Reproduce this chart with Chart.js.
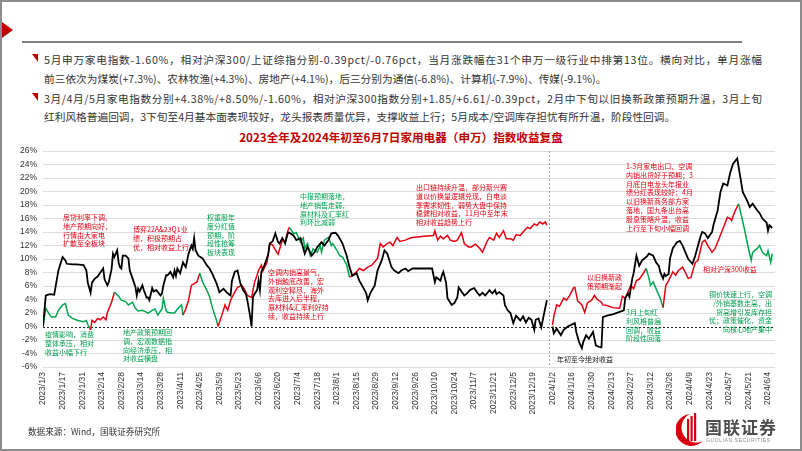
<!DOCTYPE html>
<html>
<head>
<meta charset="utf-8">
<script src="https://cdn.jsdelivr.net/npm/chart.js@4.4.1/dist/chart.umd.min.js"></script>
<style>
  html, body { margin: 0; padding: 0; background: #fff; }
  #page {
    position: relative; width: 802px; height: 451px; overflow: hidden; background: #fff;
    font-family: "Noto Sans CJK SC", "Liberation Sans", sans-serif; color: #262626;
  }
  #frame { position: absolute; left: 0; top: 0; right: 0; bottom: 0; border: 2px solid #8c8c8c; pointer-events: none; }
  .flag { position: absolute; left: 2px; top: 22px; width: 0; height: 0;
    border-top: 8px solid transparent; border-bottom: 8px solid transparent; border-left: 11px solid #c00000; }
  .rule { position: absolute; left: 22px; top: 41px; width: 720px; height: 0; border-top: 2px solid #808080; }
  .bullet { position: absolute; width: 0; height: 0; border-top: 8px solid #c00000; border-left: 6px solid transparent; }
  .line { position: absolute; left: 44px; font-size: 10.7px; line-height: 14px; white-space: nowrap; color: #333; }
  .title { position: absolute; left: 0; width: 802px; top: 129px; text-align: center;
    font-size: 11.6px; font-weight: 700; color: #c00000; font-family: "Noto Sans CJK SC", serif; }
  #chartBox { position: absolute; left: 0; top: 140px; width: 790px; height: 285px; }
  .note { position: absolute; font-size: 7px; line-height: 8.8px; white-space: nowrap; }
  .red { color: #e60012; }
  .green { color: #00a050; }
  .black { color: #111; }
  .source { position: absolute; left: 28px; top: 425px; font-size: 8.6px; color: #333; }
  .logo { position: absolute; left: 676px; top: 411px; }
  .brand { position: absolute; left: 705px; top: 414px; font-size: 17px; font-weight: 700; color: #4d4d4d; letter-spacing: 1px; }
  .brand-en { position: absolute; left: 706px; top: 437px; font-size: 5px; color: #8a8a8a; letter-spacing: 0.6px; font-family: "Liberation Sans", sans-serif; }
</style>
</head>
<body>
<div id="page">
  <div class="flag"></div>
  <div class="rule"></div>

  <div class="bullet" style="left:32px; top:54px;"></div>
  <div class="line fit" data-width="718" style="top:53px;">5月申万家电指数-1.60%，相对沪深300/上证综指分别-0.39pct/-0.76pct，当月涨跌幅在31个申万一级行业中排第13位。横向对比，单月涨幅</div>
  <div class="line" style="top:72px;">前三依次为煤炭(+7.3%)、农林牧渔(+4.3%)、房地产(+4.1%)，后三分别为通信(-6.8%)、计算机(-7.9%)、传媒(-9.1%)。</div>
  <div class="bullet" style="left:32px; top:93px;"></div>
  <div class="line fit" data-width="718" style="top:92px;">3月/4月/5月家电指数分别+4.38%/+8.50%/-1.60%，相对沪深300指数分别+1.85/+6.61/-0.39pct，2月中下旬以旧换新政策预期升温，3月上旬</div>
  <div class="line" style="top:110px;">红利风格普遍回调，3下旬至4月基本面表现较好，龙头报表质量优异，支撑收益上行；5月成本/空调库存担忧有所升温，阶段性回调。</div>

  <div class="title">2023全年及2024年初至6月7日家用电器（申万）指数收益复盘</div>

  <div id="chartBox"><canvas id="chart" width="790" height="285"></canvas></div>

  <!-- ---------- Annotations ---------- -->
  <div class="note red" style="left:63px; top:213px;">房贷利率下调、<br>地产预期向好，<br>行情由大家电<br>扩散至全板块</div>
  <div class="note red" style="left:133px; top:225px;">博弈22A&amp;23Q1业<br>绩，积极预期占<br>优，相对收益上行</div>
  <div class="note green" style="left:207px; top:213px;">权重股年<br>度分红值<br>预期，阶<br>段性抢筹<br>板块表现</div>
  <div class="note green" style="left:300px; top:192px;">中报预期落地，<br>地产销售走弱，<br>原材料及汇率红<br>利环比减弱</div>
  <div class="note red" style="left:268px; top:268px;">空调内销高景气，<br>外销触底改善，宏<br>观利空释尽，海外<br>去库进入后半程，<br>原材料&amp;汇率利好持<br>续，收益持续上行</div>
  <div class="note red" style="left:416px; top:183px;">出口链持续升温，部分新兴赛<br>道以价换量逻辑兑现，白电淡<br>季需求韧性，弱势大盘中保持<br>稳健相对收益，11月中至年末<br>相对收益趋势上行</div>
  <div class="note green" style="left:45px; top:330px;">疫情影响，消费<br>整体承压，相对<br>收益小幅下行</div>
  <div class="note green" style="left:123px; top:328px;">地产政策预期回<br>调，宏观数据指<br>向经济承压，相<br>对收益横盘</div>
  <div class="note red" style="left:587px; top:273px;">以旧换新政<br>策预期渐起</div>
  <div class="note black" style="left:557px; top:355px;">年初至今绝对收益</div>
  <div class="note green" style="left:626px; top:308px;">3月上旬红<br>利风格普遍<br>回调，收益<br>阶段性回落</div>
  <div class="note red" style="left:626px; top:162px;">1-3月家电出口、空调<br>内销出货好于预期；3<br>月底白电龙头年报业<br>绩分红表现较好；4月<br>以旧换新商务部方案<br>落地，国九条出台高<br>股息策略升温，收益<br>上行至下旬小幅回调</div>
  <div class="note red" style="left:703px; top:265px;">相对沪深300收益</div>
  <div class="note green" style="left:700px; top:290px; width:72px; text-align:right;">铜价快速上行，空调<br>/外销基数走高，出<br>货高增引发库存担<br>忧；政策催化，资金<br>向核心地产集中</div>

  <div class="source">数据来源：Wind，国联证券研究所</div>

  <svg class="logo" width="28" height="38" viewBox="0 0 28 38">
    <path d="M14 3 A16 16 0 1 0 27 30 A12 12 0 0 1 14 3 Z" fill="#d7000f"/>
    <rect x="11" y="8" width="2.2" height="22" fill="#d7000f"/>
    <rect x="14.5" y="5" width="2.2" height="25" fill="#d7000f"/>
    <rect x="18" y="2" width="2.2" height="28" fill="#d7000f"/>
  </svg>
  <div class="brand">国联证券</div>
  <div class="brand-en">GUOLIAN SECURITIES</div>

  <div id="frame"></div>
</div>

<script>
// ---------- Stretch full header lines to the text column width ----------
document.querySelectorAll('.fit').forEach(function(el) {
    var target = parseFloat(el.dataset.width);
    var natural = el.getBoundingClientRect().width;
    var n = el.textContent.length;
    el.style.letterSpacing = ((target - natural) / (n - 1)) + 'px';
});

// ---------- Data ----------
// x values are calendar days counted from 2023/1/3 (the first trading day)
var tickLabels = ['2023/1/3', '2023/1/17', '2023/1/31', '2023/2/14', '2023/2/28', '2023/3/14', '2023/3/28',
    '2023/4/11', '2023/4/25', '2023/5/9', '2023/5/23', '2023/6/6', '2023/6/20', '2023/7/4', '2023/7/18',
    '2023/8/1', '2023/8/15', '2023/8/29', '2023/9/12', '2023/9/26', '2023/10/10', '2023/10/24', '2023/11/7',
    '2023/11/21', '2023/12/5', '2023/12/19', '2024/1/2', '2024/1/16', '2024/1/30', '2024/2/13', '2024/2/27',
    '2024/3/12', '2024/3/26', '2024/4/9', '2024/4/23', '2024/5/7', '2024/5/21', '2024/6/4'];
var tickStep = 14;
var lastDay = 523;
var yearBreak = 361.5;

// Absolute return since start of year (black)
var absDays23 = [0, 2, 5, 8, 11, 14, 16, 17, 21, 24, 29, 31, 32, 34, 35, 37, 39, 42, 43, 44, 46, 47, 49, 50, 51, 53,
    54, 55, 56, 57, 59, 61, 62, 64, 66, 67, 68, 69, 71, 72, 74, 75, 76, 78, 79, 81, 84, 85, 86, 88, 89, 91, 93, 94,
    95, 96, 98, 100, 102, 104, 106, 107, 108, 109, 111, 114, 117, 119, 121, 124, 126, 129, 131, 134, 135, 137, 139,
    141, 143, 145, 146, 148, 149, 150, 151, 153, 154, 155, 156, 158, 160, 161, 162, 164, 166, 168, 169, 171, 173,
    175, 176, 179, 181, 184, 185, 187, 189, 192, 194, 196, 199, 201, 204, 206, 209, 211, 214, 217, 219, 221, 224,
    226, 229, 231, 232, 234, 237, 239, 242, 244, 246, 249, 251, 254, 256, 259, 261, 264, 266, 269, 273, 278, 280,
    281, 284, 285, 286, 288, 289, 292, 294, 296, 297, 299, 301, 303, 305, 308, 310, 312, 314, 316, 319, 321, 323,
    324, 326, 329, 330, 332, 334, 336, 338, 341, 343, 345, 347, 349, 351, 352, 354, 356, 357, 360];
var absVals23 = [0, 4.6, 4.8, 4.7, 8.3, 10.3, 9.8, 9.3, 9.2, 9.2, 9.1, 8.3, 6.5, 5.0, 6.5, 7.1, 7.4, 8.3, 8.6, 7.0,
    6.1, 6.6, 8.5, 10.8, 10.3, 11.3, 9.5, 8.8, 8.6, 10.5, 10.5, 10.1, 8.3, 7.1, 5.9, 4.6, 5.6, 5.2, 6.1, 5.4, 4.3,
    4.3, 3.9, 5.7, 5.2, 5.4, 4.6, 4.9, 6.1, 7.6, 7.6, 8.1, 7.3, 8.3, 7.5, 8.6, 7.9, 9.5, 8.8, 10.8, 12.0, 11.5, 13.1,
    11.3, 10.5, 10.1, 9.1, 8.6, 7.8, 6.4, 5.1, 5.6, 5.1, 4.6, 6.8, 8.1, 8.3, 6.4, 5.4, 4.8, 3.9, 1.5, 0, 4.3, 4.8,
    5.4, 6.8, 5.4, 8.1, 9.0, 10.1, 10.8, 12.3, 12.6, 13.8, 12.5, 12.3, 13.1, 12.3, 13.9, 13.9, 13.5, 12.8, 13.1,
    12.3, 10.8, 11.8, 10.5, 11.0, 11.8, 12.5, 12.0, 12.8, 13.8, 13.9, 13.4, 12.3, 10.5, 8.8, 7.5, 7.9, 6.8, 5.7,
    4.9, 3.9, 5.0, 6.1, 8.3, 9.8, 11.3, 10.8, 8.8, 8.3, 7.9, 8.3, 8.6, 8.2, 8.6, 8.6, 8.6, 8.6, 8.6, 6.6, 7.3, 6.8,
    7.6, 8.1, 6.5, 4.2, 3.2, 3.5, 4.3, 5.8, 5.2, 4.6, 4.9, 5.4, 5.7, 5.1, 4.6, 5.0, 4.6, 5.4, 4.9, 5.4, 4.8, 5.1,
    4.6, 3.2, 2.4, 2.0, 0.5, 1.6, 0.9, 1.5, 0.6, 1.3, 1.0, -0.5, 1.0, 1.2, -0.1, 0.9, 3.9];

var absDays24 = [364, 365, 367, 370, 372, 375, 377, 380, 381, 383, 385, 386, 388, 390, 393, 394, 395, 397, 399, 400,
    403, 407, 411, 415, 416, 418, 419, 421, 422, 424, 426, 428, 431, 433, 436, 438, 440, 441, 443, 444, 445, 447,
    448, 450, 453, 455, 457, 459, 461, 464, 466, 468, 470, 471, 473, 475, 478, 479, 482, 484, 486, 489, 491, 493,
    496, 498, 500, 503, 505, 507, 510, 512, 514, 517, 518, 519, 521];
var absVals24 = [0, -1.0, -0.3, -1.3, -0.5, 0, 0.2, 0.5, -0.8, -2.3, -3.2, -2.3, -1.3, -1.8, -0.8, -1.8, -2.8, -3.0,
    -3.1, 1.4, 1.6, 1.8, 2.1, 2.4, 4.2, 4.9, 4.4, 7.1, 7.9, 10.5, 9.0, 9.8, 10.3, 10.8, 10.5, 9.5, 9.0, 8.1, 7.1,
    7.8, 7.5, 7.8, 10.1, 11.6, 12.5, 12.7, 12.0, 11.0, 10.0, 9.3, 10.5, 12.0, 13.5, 14.0, 13.8, 13.1, 14.0, 15.0,
    17.2, 19.9, 21.2, 20.9, 22.8, 24.1, 24.9, 22.4, 19.9, 18.7, 17.7, 18.2, 17.3, 16.8, 16.0, 15.4, 14.2, 15.0, 14.6];

// Return relative to CSI 300 (red = rising phase, green = falling phase)
var relDays23 = [0, 2, 4, 6, 9, 11, 14, 16, 18, 21, 25, 29, 31, 32, 34, 35, 37, 39, 41, 43, 45, 46, 49, 51, 54, 56,
    59, 61, 64, 66, 68, 71, 73, 75, 78, 80, 82, 85, 86, 88, 89, 92, 94, 96, 99, 100, 102, 104, 106, 110, 112, 114,
    117, 119, 121, 124, 125, 128, 130, 131, 132, 134, 137, 139, 142, 144, 146, 149, 151, 154, 156, 157, 160, 162,
    164, 167, 168, 171, 173, 175, 176, 179, 181, 184, 186, 187, 189, 191, 193, 196, 198, 199, 201, 204, 206, 207,
    210, 212, 214, 217, 219, 221, 224, 226, 229, 232, 235, 239, 241, 243, 246, 248, 250, 253, 255, 259, 261, 264,
    269, 274, 279, 280, 282, 284, 286, 289, 291, 294, 296, 299, 301, 304, 306, 309, 312, 314, 317, 319, 322, 324,
    326, 329, 331, 334, 336, 338, 341, 343, 346, 348, 351, 353, 355, 357, 359, 360];
var relVals23 = [0, 2.7, 2.0, 1.4, 1.4, 2.4, 3.2, 3.4, 1.7, 1.2, 0.9, 0.7, 0.9, 0.3, -0.5, 0.9, 0.6, 1.2, 1.0, 1.4,
    1.0, 2.1, 3.6, 5.1, 4.5, 3.9, 3.7, 3.2, 3.6, 2.7, 2.3, 2.4, 2.2, 2.0, 2.4, 2.6, 1.7, 2.6, 4.2, 2.3, 2.1, 2.0, 2.0,
    2.6, 3.2, 1.7, 2.6, 3.9, 6.1, 6.6, 7.9, 6.6, 5.4, 4.4, 2.8, 0.9, 0, 1.8, 3.2, 2.8, 2.4, 3.9, 5.1, 5.8, 6.1, 5.5,
    4.6, 4.3, 6.4, 8.3, 9.1, 8.2, 9.5, 12.3, 12.1, 11.0, 10.7, 12.8, 12.6, 14.2, 14.7, 13.8, 13.9, 12.5, 13.1, 11.6,
    12.3, 10.5, 11.5, 11.0, 12.0, 11.0, 12.8, 13.2, 12.0, 12.3, 11.3, 10.5, 10.3, 9.1, 7.3, 7.6, 8.1, 8.6, 8.3, 8.8,
    9.1, 10.1, 12.3, 11.8, 12.3, 12.5, 12.0, 13.2, 12.6, 12.8, 13.0, 13.2, 13.3, 13.4, 13.5, 14.2, 12.8, 13.4, 13.0,
    13.5, 12.8, 12.6, 12.8, 13.9, 12.3, 11.8, 11.8, 12.2, 11.6, 11.0, 12.5, 13.2, 12.8, 13.8, 13.2, 14.2, 13.0,
    13.0, 12.8, 13.6, 13.5, 14.0, 14.7, 14.5, 15.2, 15.0, 15.5, 15.2, 15.5, 15.0];

var relDays24 = [364, 365, 367, 369, 372, 374, 376, 379, 380, 382, 385, 387, 389, 392, 394, 396, 399, 400, 403, 407,
    412, 414, 416, 418, 420, 422, 424, 426, 429, 431, 433, 434, 436, 439, 441, 443, 445, 447, 450, 452, 454, 457,
    459, 461, 463, 466, 468, 471, 473, 475, 478, 480, 482, 486, 489, 491, 492, 494, 497, 499, 501, 504, 506, 507,
    510, 512, 514, 517, 518, 520, 521];
var relVals24 = [0.2, 1.5, 3.2, 3.0, 4.2, 3.9, 4.5, 5.7, 5.8, 3.8, 3.2, 2.1, 3.5, 3.9, 4.6, 4.0, 3.6, 3.2, 3.1, 2.8,
    2.7, 4.5, 4.2, 5.2, 6.1, 5.6, 6.8, 7.0, 7.9, 8.6, 7.1, 6.1, 6.6, 5.1, 4.2, 2.8, 6.1, 6.8, 8.1, 7.6, 8.3, 8.8,
    8.0, 7.1, 7.3, 9.5, 9.8, 12.5, 12.8, 12.0, 11.0, 11.5, 12.5, 14.6, 16.2, 16.0, 15.7, 16.9, 18.2, 16.4, 14.6,
    11.6, 9.8, 11.0, 11.5, 12.0, 11.0, 10.5, 11.2, 9.5, 10.8];

// Day spans where the relative line is drawn green
var greenSpans = [[0, 34], [51, 100], [112, 125], [176, 219], [431, 443], [497, 521]];

var yTicks = { min: -6, max: 26, step: 2 };

// ---------- Colours ----------
var RED = '#e60012';
var GREEN = '#00a650';
var BLACK = '#000000';

function toPoints(days, vals) {
    return days.map(function(d, i) { return { x: d, y: vals[i] }; });
}

function relColor(ctx) {
    var a = ctx.p0.parsed.x, b = ctx.p1.parsed.x;
    var isGreen = greenSpans.some(function(s) { return a >= s[0] && b <= s[1]; });
    return isGreen ? GREEN : RED;
}

// ---------- Guide lines (zero line + year break) ----------
var guides = {
    id: 'guides',
    beforeDatasetsDraw: function(chart) {
        var ctx = chart.ctx, area = chart.chartArea;
        var x = chart.scales.x, y = chart.scales.y;
        ctx.save();
        ctx.lineWidth = 1;
        ctx.setLineDash([2, 2]);

        var y0 = Math.round(y.getPixelForValue(0)) + 0.5;
        ctx.strokeStyle = '#222';
        ctx.beginPath();
        ctx.moveTo(area.left, y0);
        ctx.lineTo(area.right, y0);
        ctx.stroke();

        var xb = Math.round(x.getPixelForValue(yearBreak)) + 0.5;
        ctx.strokeStyle = '#a0a0a0';
        ctx.beginPath();
        ctx.moveTo(xb, area.top);
        ctx.lineTo(xb, area.bottom);
        ctx.stroke();
        ctx.restore();
    }
};

function lineSet(data, color, width, order) {
    return { data: data, borderColor: color, borderWidth: width, pointRadius: 0, tension: 0, order: order };
}

var relSet23 = lineSet(toPoints(relDays23, relVals23), RED, 1.5, 2);
relSet23.segment = { borderColor: relColor };
var relSet24 = lineSet(toPoints(relDays24, relVals24), RED, 1.5, 2);
relSet24.segment = { borderColor: relColor };

// ---------- Chart ----------
new Chart(document.getElementById('chart').getContext('2d'), {
    type: 'line',
    data: {
        datasets: [
            lineSet(toPoints(absDays23, absVals23), BLACK, 1.8, 1),
            lineSet(toPoints(absDays24, absVals24), BLACK, 1.8, 1),
            relSet23,
            relSet24
        ]
    },
    options: {
        responsive: false,
        animation: false,
        devicePixelRatio: 1,
        layout: { padding: { top: 10, right: 15, left: 0, bottom: 0 } },
        plugins: { legend: { display: false }, tooltip: { enabled: false } },
        scales: {
            x: {
                type: 'linear',
                min: 0,
                max: lastDay,
                grid: { display: false, drawTicks: false },
                border: { display: false },
                afterFit: function(s) { s.height = 58; },
                ticks: {
                    stepSize: tickStep,
                    includeBounds: false,
                    maxTicksLimit: 100,
                    autoSkip: false,
                    minRotation: 90,
                    maxRotation: 90,
                    padding: 5,
                    color: '#333',
                    font: { family: 'Liberation Sans', size: 8.5 },
                    callback: function(v) {
                        var i = Math.round(v / tickStep);
                        return (v % tickStep === 0 && tickLabels[i]) ? tickLabels[i] : '';
                    }
                }
            },
            y: {
                min: yTicks.min,
                max: yTicks.max,
                grid: {
                    drawTicks: false,
                    color: function(c) { return c.tick.value === 0 ? 'rgba(0,0,0,0)' : '#dcdcdc'; }
                },
                border: { display: false },
                afterFit: function(s) { s.width = 43; },
                ticks: {
                    stepSize: yTicks.step,
                    padding: 6,
                    color: '#333',
                    font: { family: 'Liberation Sans', size: 8.5 },
                    callback: function(v) { return v + '%'; }
                }
            }
        }
    },
    plugins: [guides]
});
</script>
</body>
</html>
